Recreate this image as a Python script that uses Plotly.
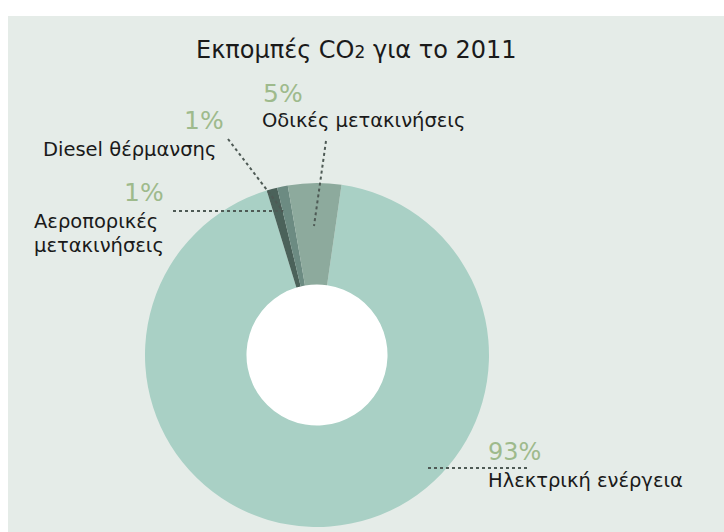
import plotly.graph_objects as go

W, H = 724, 532

# ---- data ----
labels = ["Ηλεκτρική ενέργεια", "Αεροπορικές μετακινήσεις", "Diesel θέρμανσης", "Οδικές μετακινήσεις"]
values = [93, 1, 1, 5]
pct_text = ["93%", "1%", "1%", "5%"]
colors = ["#A9D0C5", "#4B625A", "#6C8B82", "#8DAA9D"]

title = "Εκπομπές CO<span style='font-size:17px'>2</span> για το 2011"

BG = "#E5ECE8"
PCT_COLOR = "#9EBA8C"
TXT = "#1A1A1A"
DOT = "#4E5A55"
FONT = "DejaVu Sans"


def px(x):
    return x / W


def py(y):
    return 1 - y / H


cx, cy, R = 317, 355, 172
hole = 0.41

fig = go.Figure()
fig.add_trace(go.Pie(
    values=values, labels=labels, sort=False, direction="clockwise",
    rotation=8.2, hole=hole, textinfo="none", hoverinfo="label+percent",
    marker=dict(colors=colors, line=dict(width=0)),
    domain=dict(x=[px(cx - R), px(cx + R)], y=[py(cy + R), py(cy - R)]),
    showlegend=False,
))

shapes = [
    dict(type="rect", xref="paper", yref="paper", x0=px(8), x1=1.0, y0=0, y1=py(16),
         fillcolor=BG, line=dict(width=0), layer="below"),
    dict(type="circle", xref="paper", yref="paper",
         x0=px(cx - R * hole - 1), x1=px(cx + R * hole + 1),
         y0=py(cy + R * hole + 1), y1=py(cy - R * hole - 1),
         fillcolor="white", line=dict(width=0), layer="below"),
]

leaders = [
    ((428, 468), (528, 468)),
    ((173, 211), (283, 211)),
    ((228, 139), (283, 211)),
    ((326, 141), (314, 226)),
]
for (x0, y0), (x1, y1) in leaders:
    shapes.append(dict(type="line", xref="paper", yref="paper",
                       x0=px(x0), y0=py(y0), x1=px(x1), y1=py(y1),
                       line=dict(color=DOT, width=2, dash="dot"), layer="above"))

ann = []


def add(text, x, y, size, color, xanchor="left"):
    ann.append(dict(text=text, x=px(x), y=py(y), xref="paper", yref="paper",
                    xanchor=xanchor, yanchor="middle", showarrow=False,
                    font=dict(family=FONT, size=size, color=color)))


add(title, 356, 50, 24, TXT, "center")
# percentages
add(pct_text[3], 261, 93, 25, PCT_COLOR)
add(pct_text[2], 182, 120, 25, PCT_COLOR)
add(pct_text[1], 122, 192, 25, PCT_COLOR)
add(pct_text[0], 486, 452, 24, PCT_COLOR)
# labels
add(labels[3], 260, 120, 19.5, TXT)
add(labels[2], 41, 149, 19.5, TXT)
add("Αεροπορικές", 32, 221, 19.5, TXT)
add("μετακινήσεις", 32, 246, 19.5, TXT)
add(labels[0], 486, 480, 19.5, TXT)

fig.update_layout(
    width=W, height=H, margin=dict(l=0, r=0, t=0, b=0),
    paper_bgcolor="white", plot_bgcolor="white",
    shapes=shapes, annotations=ann,
)

fig.write_html("out.html")
